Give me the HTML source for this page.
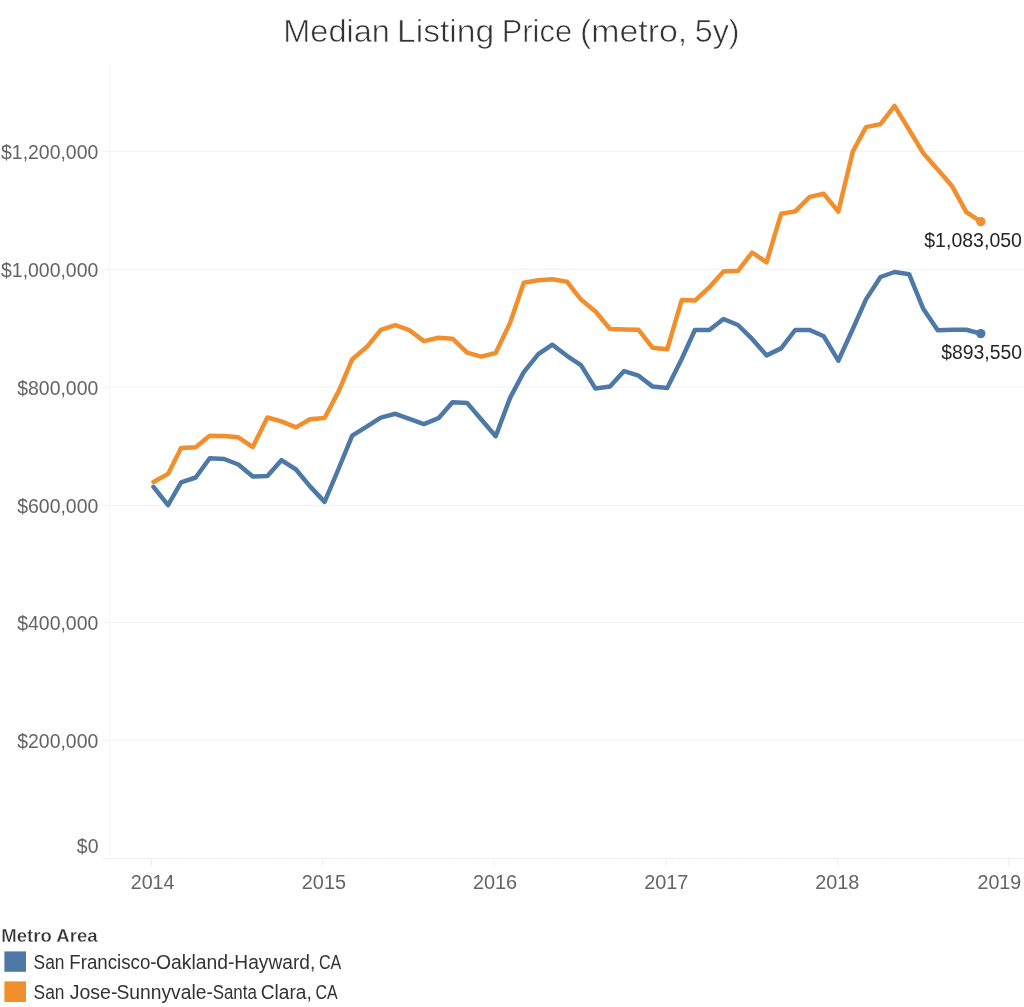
<!DOCTYPE html>
<html><head><meta charset="utf-8"><title>Median Listing Price (metro, 5y)</title>
<style>
html,body{margin:0;padding:0;background:#fff;}
body{width:1024px;height:1007px;overflow:hidden;font-family:"Liberation Sans",sans-serif;}
svg{display:block}
text{font-family:"Liberation Sans",sans-serif;}
</style></head><body>
<svg width="1024" height="1007" viewBox="0 0 1024 1007">
<rect width="1024" height="1007" fill="#fff"/>
<rect x="102" y="150.8" width="922" height="1" fill="#f0f0f0"/>
<rect x="102" y="268.7" width="922" height="1" fill="#f0f0f0"/>
<rect x="102" y="386.7" width="922" height="1" fill="#f0f0f0"/>
<rect x="102" y="505.0" width="922" height="1" fill="#f0f0f0"/>
<rect x="102" y="622.0" width="922" height="1" fill="#f0f0f0"/>
<rect x="102" y="739.8" width="922" height="1" fill="#f0f0f0"/>
<rect x="109" y="65" width="1" height="793" fill="#f5f7f7"/>
<line x1="102" y1="858.5" x2="1024" y2="858.5" stroke="#ededed" stroke-width="1" stroke-dasharray="3.2 0.9"/>
<rect x="151.0" y="859.5" width="1" height="6.5" fill="#ececec"/>
<rect x="322.0" y="859.5" width="1" height="6.5" fill="#ececec"/>
<rect x="493.5" y="859.5" width="1" height="6.5" fill="#ececec"/>
<rect x="665.5" y="859.5" width="1" height="6.5" fill="#ececec"/>
<rect x="837.0" y="859.5" width="1" height="6.5" fill="#ececec"/>
<rect x="1008.25" y="859.5" width="1" height="6.5" fill="#ececec"/>
<rect x="122.46" y="859.5" width="1" height="1.8" fill="#f6f6f6"/>
<rect x="136.73" y="859.5" width="1" height="1.8" fill="#f6f6f6"/>
<rect x="165.27" y="859.5" width="1" height="1.8" fill="#f6f6f6"/>
<rect x="179.54" y="859.5" width="1" height="1.8" fill="#f6f6f6"/>
<rect x="193.81" y="859.5" width="1" height="1.8" fill="#f6f6f6"/>
<rect x="208.08" y="859.5" width="1" height="1.8" fill="#f6f6f6"/>
<rect x="222.35" y="859.5" width="1" height="1.8" fill="#f6f6f6"/>
<rect x="236.62" y="859.5" width="1" height="1.8" fill="#f6f6f6"/>
<rect x="250.89" y="859.5" width="1" height="1.8" fill="#f6f6f6"/>
<rect x="265.16" y="859.5" width="1" height="1.8" fill="#f6f6f6"/>
<rect x="279.43" y="859.5" width="1" height="1.8" fill="#f6f6f6"/>
<rect x="293.70" y="859.5" width="1" height="1.8" fill="#f6f6f6"/>
<rect x="307.97" y="859.5" width="1" height="1.8" fill="#f6f6f6"/>
<rect x="336.51" y="859.5" width="1" height="1.8" fill="#f6f6f6"/>
<rect x="350.78" y="859.5" width="1" height="1.8" fill="#f6f6f6"/>
<rect x="365.05" y="859.5" width="1" height="1.8" fill="#f6f6f6"/>
<rect x="379.32" y="859.5" width="1" height="1.8" fill="#f6f6f6"/>
<rect x="393.59" y="859.5" width="1" height="1.8" fill="#f6f6f6"/>
<rect x="407.86" y="859.5" width="1" height="1.8" fill="#f6f6f6"/>
<rect x="422.13" y="859.5" width="1" height="1.8" fill="#f6f6f6"/>
<rect x="436.40" y="859.5" width="1" height="1.8" fill="#f6f6f6"/>
<rect x="450.67" y="859.5" width="1" height="1.8" fill="#f6f6f6"/>
<rect x="464.94" y="859.5" width="1" height="1.8" fill="#f6f6f6"/>
<rect x="479.21" y="859.5" width="1" height="1.8" fill="#f6f6f6"/>
<rect x="507.75" y="859.5" width="1" height="1.8" fill="#f6f6f6"/>
<rect x="522.02" y="859.5" width="1" height="1.8" fill="#f6f6f6"/>
<rect x="536.29" y="859.5" width="1" height="1.8" fill="#f6f6f6"/>
<rect x="550.56" y="859.5" width="1" height="1.8" fill="#f6f6f6"/>
<rect x="564.83" y="859.5" width="1" height="1.8" fill="#f6f6f6"/>
<rect x="579.10" y="859.5" width="1" height="1.8" fill="#f6f6f6"/>
<rect x="593.37" y="859.5" width="1" height="1.8" fill="#f6f6f6"/>
<rect x="607.64" y="859.5" width="1" height="1.8" fill="#f6f6f6"/>
<rect x="621.91" y="859.5" width="1" height="1.8" fill="#f6f6f6"/>
<rect x="636.18" y="859.5" width="1" height="1.8" fill="#f6f6f6"/>
<rect x="650.45" y="859.5" width="1" height="1.8" fill="#f6f6f6"/>
<rect x="678.99" y="859.5" width="1" height="1.8" fill="#f6f6f6"/>
<rect x="693.26" y="859.5" width="1" height="1.8" fill="#f6f6f6"/>
<rect x="707.53" y="859.5" width="1" height="1.8" fill="#f6f6f6"/>
<rect x="721.80" y="859.5" width="1" height="1.8" fill="#f6f6f6"/>
<rect x="736.07" y="859.5" width="1" height="1.8" fill="#f6f6f6"/>
<rect x="750.34" y="859.5" width="1" height="1.8" fill="#f6f6f6"/>
<rect x="764.61" y="859.5" width="1" height="1.8" fill="#f6f6f6"/>
<rect x="778.88" y="859.5" width="1" height="1.8" fill="#f6f6f6"/>
<rect x="793.15" y="859.5" width="1" height="1.8" fill="#f6f6f6"/>
<rect x="807.42" y="859.5" width="1" height="1.8" fill="#f6f6f6"/>
<rect x="821.69" y="859.5" width="1" height="1.8" fill="#f6f6f6"/>
<rect x="850.23" y="859.5" width="1" height="1.8" fill="#f6f6f6"/>
<rect x="864.50" y="859.5" width="1" height="1.8" fill="#f6f6f6"/>
<rect x="878.77" y="859.5" width="1" height="1.8" fill="#f6f6f6"/>
<rect x="893.04" y="859.5" width="1" height="1.8" fill="#f6f6f6"/>
<rect x="907.31" y="859.5" width="1" height="1.8" fill="#f6f6f6"/>
<rect x="921.58" y="859.5" width="1" height="1.8" fill="#f6f6f6"/>
<rect x="935.85" y="859.5" width="1" height="1.8" fill="#f6f6f6"/>
<rect x="950.12" y="859.5" width="1" height="1.8" fill="#f6f6f6"/>
<rect x="964.39" y="859.5" width="1" height="1.8" fill="#f6f6f6"/>
<rect x="978.66" y="859.5" width="1" height="1.8" fill="#f6f6f6"/>
<rect x="992.93" y="859.5" width="1" height="1.8" fill="#f6f6f6"/>
<text transform="translate(283.23,42.0) scale(1.0670,1)" font-size="30.5" fill="#333" stroke="#fff" stroke-width="0.6">Median</text>
<text transform="translate(397.04,42.0) scale(1.1025,1)" font-size="30.5" fill="#333" stroke="#fff" stroke-width="0.6">Listing</text>
<text transform="translate(501.77,42.0) scale(1.0118,1)" font-size="30.5" fill="#333" stroke="#fff" stroke-width="0.6">Price</text>
<text transform="translate(580.02,42.0) scale(1.1109,1)" font-size="30.5" fill="#333" stroke="#fff" stroke-width="0.6">(metro,</text>
<text transform="translate(694.68,42.0) scale(1.0599,1)" font-size="30.5" fill="#333" stroke="#fff" stroke-width="0.6">5y)</text>
<text transform="translate(1.35,941.7) scale(0.9974,1)" font-size="18.6" font-weight="bold" fill="#333" stroke="#fff" stroke-width="0.35">Metro Area</text>
<text transform="translate(33.61,968.8) scale(0.8992,1)" font-size="19.3" fill="#333">San</text>
<text transform="translate(69.22,968.8) scale(0.9703,1)" font-size="19.3" fill="#333">Francisco-</text>
<text transform="translate(156.02,968.8) scale(1.0026,1)" font-size="19.3" fill="#333">Oakland-</text>
<text transform="translate(234.28,968.8) scale(0.9946,1)" font-size="19.3" fill="#333">Hayward,</text>
<text transform="translate(318.97,968.8) scale(0.8350,1)" font-size="19.3" fill="#333">CA</text>
<text transform="translate(33.61,998.8) scale(0.8992,1)" font-size="19.3" fill="#333">San</text>
<text transform="translate(69.72,998.8) scale(1.0114,1)" font-size="19.3" fill="#333">Jose-</text>
<text transform="translate(116.53,998.8) scale(0.9984,1)" font-size="19.3" fill="#333">Sunnyvale-</text>
<text transform="translate(212.63,998.8) scale(0.8768,1)" font-size="19.3" fill="#333">Santa</text>
<text transform="translate(260.71,998.8) scale(0.9908,1)" font-size="19.3" fill="#333">Clara,</text>
<text transform="translate(315.47,998.8) scale(0.8272,1)" font-size="19.3" fill="#333">CA</text>
<text transform="translate(924.25,247.2) scale(0.9867,1)" font-size="19.8" fill="#262626">$1,083,050</text>
<text transform="translate(941.25,359.0) scale(1.0041,1)" font-size="19.3" fill="#262626">$893,550</text>
<text transform="translate(76.85,852.8) scale(0.9939,1)" font-size="19.5" fill="#646464">$0</text>
<text transform="translate(1.05,158.7) scale(0.9966,1)" font-size="19.5" fill="#646464">$1,200,000</text>
<text transform="translate(1.05,277.0) scale(0.9966,1)" font-size="19.5" fill="#646464">$1,000,000</text>
<text transform="translate(17.25,395.3) scale(0.9966,1)" font-size="19.5" fill="#646464">$800,000</text>
<text transform="translate(17.25,513.3) scale(0.9966,1)" font-size="19.5" fill="#646464">$600,000</text>
<text transform="translate(17.25,630.0) scale(0.9966,1)" font-size="19.5" fill="#646464">$400,000</text>
<text transform="translate(17.25,747.8) scale(0.9966,1)" font-size="19.5" fill="#646464">$200,000</text>
<text transform="translate(130.69,888.8) scale(1.0108,1)" font-size="19.5" fill="#646464">2014</text>
<text transform="translate(301.83,888.8) scale(1.0169,1)" font-size="19.5" fill="#646464">2015</text>
<text transform="translate(472.98,888.8) scale(1.0169,1)" font-size="19.5" fill="#646464">2016</text>
<text transform="translate(644.13,888.8) scale(1.0199,1)" font-size="19.5" fill="#646464">2017</text>
<text transform="translate(815.28,888.8) scale(1.0169,1)" font-size="19.5" fill="#646464">2018</text>
<text transform="translate(977.49,888.8) scale(1.0072,1)" font-size="19.5" fill="#646464">2019</text>
<polyline fill="none" stroke="#4e79a7" stroke-width="4.5" stroke-linejoin="round" stroke-linecap="round" points="153.5,486.8 168.0,505.2 181.1,482.4 195.7,477.5 209.7,458.2 224.2,459.0 238.3,464.5 252.8,476.5 267.4,476.1 281.4,460.2 296.0,469.5 310.0,486.4 324.6,501.9 339.1,467.5 352.2,435.6 366.7,426.7 380.8,417.6 395.3,413.8 409.4,418.8 423.9,424.1 438.5,418.2 452.5,402.3 467.1,402.9 481.1,419.2 495.7,436.2 510.2,397.6 523.8,372.1 538.3,354.2 552.4,344.7 566.9,355.8 581.0,365.1 595.5,388.6 610.0,386.6 624.1,371.1 638.6,375.7 652.7,386.6 667.2,388.0 681.7,359.0 694.9,330.0 709.4,330.0 723.5,319.0 738.0,325.0 752.1,338.9 766.6,355.4 781.1,348.4 795.2,330.0 809.7,330.0 823.8,336.3 838.3,360.7 852.8,329.0 866.0,299.4 880.5,277.0 894.5,272.0 909.1,274.2 923.1,308.4 937.7,330.2 952.2,329.8 966.3,329.8 980.8,333.6"/>
<polyline fill="none" stroke="#f28e2b" stroke-width="4.5" stroke-linejoin="round" stroke-linecap="round" points="153.5,482.0 168.0,473.9 181.1,448.1 195.7,447.3 209.7,435.7 224.2,436.1 238.3,437.3 252.8,447.1 267.4,417.5 281.4,421.3 296.0,427.4 310.0,419.3 324.6,418.0 339.1,390.4 352.2,359.2 366.7,347.1 380.8,329.8 395.3,325.2 409.4,330.2 423.9,341.1 438.5,337.7 452.5,338.7 467.1,352.6 481.1,356.6 495.7,353.0 510.2,322.6 523.8,282.7 538.3,280.3 552.4,279.3 566.9,281.7 581.0,299.6 595.5,311.5 610.0,329.0 624.1,329.4 638.6,329.8 652.7,347.8 667.2,349.3 681.7,300.1 694.9,300.6 709.4,287.2 723.5,271.4 738.0,270.8 752.1,252.5 766.6,262.3 781.1,213.8 795.2,211.4 809.7,196.9 823.8,193.8 838.3,211.6 852.8,151.5 866.0,127.1 880.5,124.1 894.5,105.9 909.1,129.7 923.1,152.9 937.7,169.4 952.2,186.3 966.3,212.1 980.8,221.6"/>
<circle cx="980.8" cy="333.6" r="4.7" fill="#4e79a7"/>
<circle cx="980.8" cy="221.6" r="4.7" fill="#f28e2b"/>
<rect x="4.4" y="951.4" width="21.6" height="20.4" fill="#4e79a7"/>
<rect x="4.4" y="981.4" width="21.6" height="20.6" fill="#f28e2b"/>
</svg></body></html>
